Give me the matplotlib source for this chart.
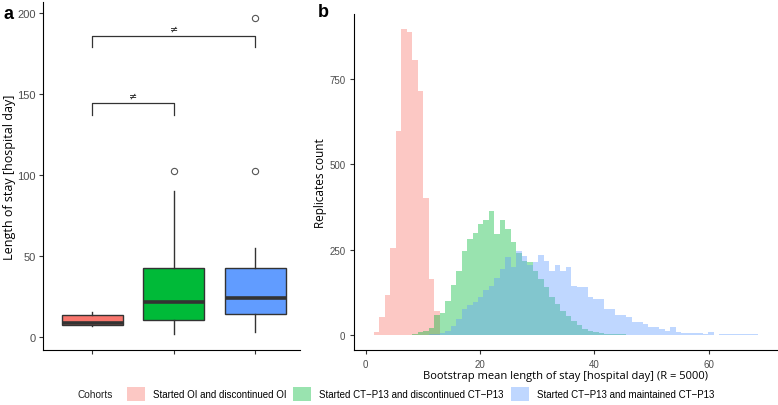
import numpy as np
import matplotlib
matplotlib.use("Agg")
import matplotlib.pyplot as plt
from matplotlib.patches import Patch

# cohorts and colours (ggplot default hues)
cohorts = ["Started OI and discontinued OI",
           "Started CT\u2212P13 and discontinued CT\u2212P13",
           "Started CT\u2212P13 and maintained CT\u2212P13"]
colors = ["#F8766D", "#00BA38", "#619CFF"]

# panel a: box summaries (hospital days)
q1 = [7.6, 10.9, 14.2]
med = [8.8, 21.8, 24.5]
q3 = [13.8, 43.0, 42.6]
whislo = [7.0, 2.0, 3.0]
whishi = [15.4, 90.5, 55.0]
outliers = [[], [102.7], [102.7, 197.0]]

# significance brackets: (from, to, height)
brackets = [(1, 2, 144.4), (1, 3, 186.2)]

# panel b: bootstrap histogram counts (shared bins)
bin_start = 1.4
bin_width = 0.96
pink_first = 0
pink_counts = [7, 51, 117, 256, 597, 898, 888, 807, 717, 403, 163, 71]
green_first = 7
green_counts = [3, 8, 10, 20, 58, 65, 100, 146, 188, 247, 281, 298, 325, 338,
                364, 296, 338, 312, 271, 240, 218, 214, 188, 163, 139, 112, 90,
                70, 56, 41, 28, 18, 12, 8, 5, 3, 2, 1, 1]
blue_first = 10
blue_counts = [1, 2, 5, 12, 26, 45, 75, 87, 96, 112, 130, 144, 166, 193, 227,
               198, 245, 232, 205, 214, 234, 217, 188, 205, 188, 199, 144, 139,
               139, 112, 105, 104, 77, 77, 58, 58, 51, 38, 38, 31, 23, 23, 17,
               12, 22, 9, 5, 5, 4, 4, 3, 9, 0, 1, 2, 2, 2, 1, 1, 1]

fig = plt.figure(figsize=(7.78, 4.06), dpi=100)
tick_col = "#4D4D4D"
label_font = ["Open Sans", "DejaVu Sans"]

# ---- panel a ----
axa = fig.add_axes([0.0557, 0.1362, 0.3299, 0.8564])
stats = []
for i in range(3):
    stats.append(dict(med=med[i], q1=q1[i], q3=q3[i], whislo=whislo[i],
                      whishi=whishi[i], fliers=outliers[i]))
bp = axa.bxp(stats, positions=[1, 2, 3], widths=0.75, patch_artist=True,
             showcaps=False,
             boxprops=dict(edgecolor="#333333", linewidth=1.0),
             whiskerprops=dict(color="#333333", linewidth=1.0),
             medianprops=dict(color="#333333", linewidth=2.6),
             flierprops=dict(marker="o", markerfacecolor="none",
                             markeredgecolor="#555555", markersize=4.5,
                             markeredgewidth=0.8))
for patch, c in zip(bp["boxes"], colors):
    patch.set_facecolor(c)

for x0, x1, h in brackets:
    axa.plot([x0, x0, x1, x1], [h - 7, h, h, h - 7], color="#333333", lw=0.9)
    axa.text((x0 + x1) / 2, h + 1.5, "\u2260", ha="center", va="bottom",
             fontsize=7, color="#222222", family="DejaVu Sans")

axa.set_xlim(0.4, 3.55)
axa.set_ylim(-7.7, 207)
axa.set_yticks([0, 50, 100, 150, 200])
axa.set_xticks([1, 2, 3])
axa.set_xticklabels([])
axa.tick_params(colors="#333333", labelcolor=tick_col, labelsize=8,
                length=3, width=0.8, pad=2.5)
for lab in axa.get_yticklabels():
    lab.set_family("Liberation Sans")
axa.spines["top"].set_visible(False)
axa.spines["right"].set_visible(False)
axa.set_ylabel("Length of stay [hospital day]", fontsize=9,
               family=label_font)
axa.yaxis.set_label_coords(-0.108, 0.5)
fig.text(0.004, 0.985, "a", fontsize=13, fontweight="bold",
         family="Liberation Sans", va="top")

# ---- panel b ----
axb = fig.add_axes([0.4554, 0.1362, 0.5437, 0.8268])
edges = bin_start + bin_width * np.arange(80)
for first, counts, c in [(pink_first, pink_counts, colors[0]),
                         (green_first, green_counts, colors[1]),
                         (blue_first, blue_counts, colors[2])]:
    left = edges[first:first + len(counts)]
    axb.bar(left, counts, width=bin_width, align="edge", color=c,
            alpha=0.4, linewidth=0)

axb.set_xlim(-2.0, 72.0)
axb.set_ylim(-44, 942)
axb.set_xticks([0, 20, 40, 60])
axb.set_yticks([0, 250, 500, 750])
axb.tick_params(colors="#333333", labelcolor=tick_col, labelsize=7,
                length=3, width=0.8)
for lab in axb.get_xticklabels() + axb.get_yticklabels():
    lab.set_family("Liberation Sans")
axb.spines["top"].set_visible(False)
axb.spines["right"].set_visible(False)
axb.set_xlabel("Bootstrap mean length of stay [hospital day] (R = 5000)",
               fontsize=8, family=label_font, labelpad=1)
axb.set_ylabel("Replicates count", fontsize=8.5, family=label_font)
axb.yaxis.set_label_coords(-0.065, 0.5)
fig.text(0.408, 0.99, "b", fontsize=13, fontweight="bold",
         family="Liberation Sans", va="top")

# ---- legend ----
handles = [Patch(facecolor=c, alpha=0.4, edgecolor="none") for c in colors]
fig.text(0.1, 0.027, "Cohorts", fontsize=7.3, family="Liberation Sans",
         va="center", color="#222222")
fig.legend(handles, cohorts, loc="center left", bbox_to_anchor=(0.163, 0.027),
           ncol=3, frameon=False, handlelength=1.85,
           handleheight=1.85, handletextpad=0.82, columnspacing=0.72,
           borderpad=0, borderaxespad=0,
           prop={"family": "Liberation Sans", "size": 7})

fig.savefig("out.png", dpi=100)
